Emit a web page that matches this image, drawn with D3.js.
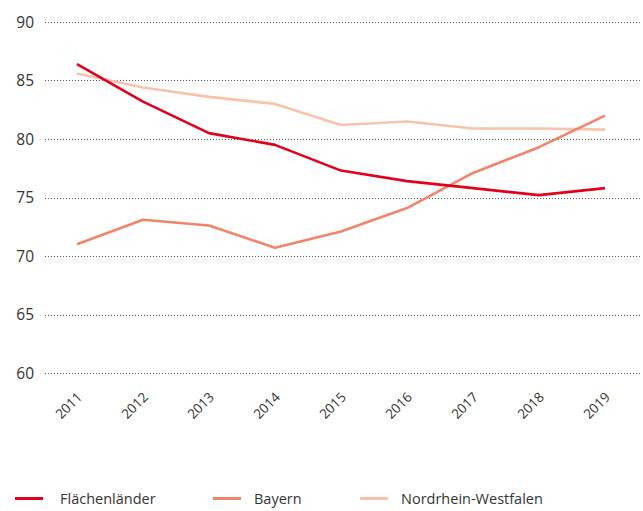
<!DOCTYPE html>
<html>
<head>
<meta charset="utf-8">
<script src="https://cdn.jsdelivr.net/npm/d3@7"></script>
<style>
body { margin: 0; background: #fff; }
text { font-family: "Open Sans", "Noto Sans", sans-serif; fill: #333; }
</style>
</head>
<body>
<div id="chart"></div>
<script>
const width = 643
const height = 511

const years = [2011, 2012, 2013, 2014, 2015, 2016, 2017, 2018, 2019]
const flaechen = [86.4, 83.2, 80.5, 79.5, 77.3, 76.4, 75.8, 75.2, 75.8]
const bayern = [71.0, 73.1, 72.6, 70.7, 72.1, 74.1, 77.1, 79.3, 82.0]
const nrw = [85.6, 84.4, 83.6, 83.0, 81.2, 81.5, 80.9, 80.9, 80.8]
const yTicks = [60, 65, 70, 75, 80, 85, 90]

const series = [
    {name: "Flächenländer", values: flaechen, color: "#e2001a"},
    {name: "Bayern", values: bayern, color: "#f0856a"},
    {name: "Nordrhein-Westfalen", values: nrw, color: "#f9c3ab"}
]

const svg = d3.select("#chart")
    .append("svg")
    .attr("width", width)
    .attr("height", height)

const x = d3.scalePoint()
    .domain(years)
    .range([77, 605])

const y = d3.scaleLinear()
    .domain([60, 90])
    .range([373, 22])

/* gridlines + y labels */
svg.append("g")
    .selectAll("line")
    .data(yTicks)
    .enter()
    .append("line")
    .attr("x1", 45)
    .attr("x2", 641)
    .attr("y1", d => Math.round(y(d)) + 0.5)
    .attr("y2", d => Math.round(y(d)) + 0.5)
    .attr("stroke", "#555")
    .attr("stroke-width", 1)
    .attr("stroke-dasharray", "1,2")

svg.append("g")
    .selectAll("text")
    .data(yTicks)
    .enter()
    .append("text")
    .attr("x", 34)
    .attr("y", d => y(d) + 5.5)
    .attr("text-anchor", "end")
    .attr("font-size", 15.5)
    .text(d => d)

/* x labels */
svg.append("g")
    .selectAll("text")
    .data(years)
    .enter()
    .append("text")
    .attr("transform", d => `translate(${x(d) + 6},${398}) rotate(-45)`)
    .attr("text-anchor", "end")
    .attr("font-size", 13.5)
    .text(d => d)

/* lines, drawn back to front */
const line = d3.line()
    .x((d, i) => x(years[i]))
    .y(d => y(d))

series.slice().reverse().forEach(s => {
    svg.append("path")
        .datum(s.values)
        .attr("d", line)
        .attr("fill", "none")
        .attr("stroke", s.color)
        .attr("stroke-width", 2.6)
        .attr("stroke-linejoin", "round")
})

/* legend */
const legendLineX = [15, 213, 360]
const legendTextX = [60, 254, 401]
series.forEach((s, i) => {
    svg.append("line")
        .attr("x1", legendLineX[i])
        .attr("x2", legendLineX[i] + 28)
        .attr("y1", 498.5)
        .attr("y2", 498.5)
        .attr("stroke", s.color)
        .attr("stroke-width", 3)
    svg.append("text")
        .attr("x", legendTextX[i])
        .attr("y", 504)
        .attr("font-size", 14.5)
        .text(s.name)
})
</script>
</body>
</html>
